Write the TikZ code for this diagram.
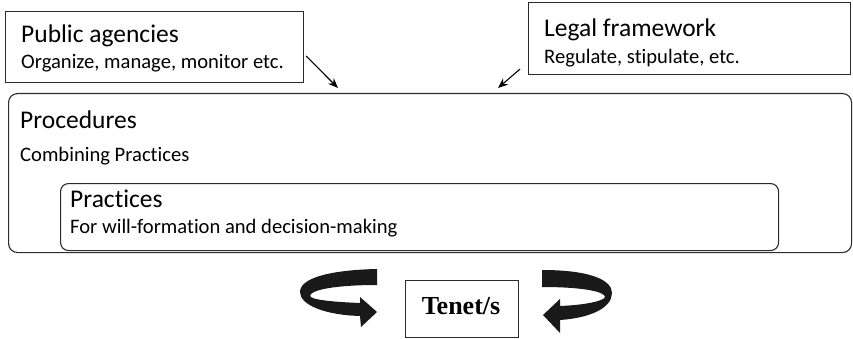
\documentclass[tikz,border=0pt]{standalone}
\usepackage{fontspec}
\setmainfont{Carlito}[Ligatures=NoCommon]
\newfontfamily\tenetfont{Liberation Serif}
\usetikzlibrary{arrows.meta}
\definecolor{ink}{HTML}{2B2B2B}
\begin{document}
\begin{tikzpicture}[x=1pt,y=-1pt,
  box/.style={draw=ink,line width=1.1pt,rectangle,inner sep=0pt,anchor=north west},
  rbox/.style={box,rounded corners=9pt},
  title/.style={anchor=base west,inner sep=0pt,text=black,font=\fontsize{25.5}{29}\selectfont},
  sub/.style={anchor=base west,inner sep=0pt,text=black,font=\fontsize{20.6}{24}\selectfont},
  link/.style={draw=black,line width=1.1pt,-{Stealth[length=10pt,width=8pt]}},
  loop/.style={fill=black!90,draw=none}]
\useasboundingbox (0,0) rectangle (853,339);

% the two source boxes
\node[box,minimum width=298pt,minimum height=71pt] (pub) at (5,11) {};
\node[title] (pubt) at (21,42.5) {Public agencies};
\node[sub] (pubs) at (21,68.5) {Organize, manage, monitor etc.};

\node[box,minimum width=322pt,minimum height=72pt] (leg) at (528,2) {};
\node[title] (legt) at (544,36.5) {Legal framework};
\node[sub] (legs) at (544,63.5) {Regulate, stipulate, etc.};

% procedures with the practices inside
\node[rbox,minimum width=843pt,minimum height=159pt] (proc) at (8,93) {};
\node[title] (proct) at (20,128.5) {Procedures};
\node[sub] (procs) at (20,162) {Combining Practices};

\node[rbox,rounded corners=8pt,minimum width=718pt,minimum height=67pt] (prac) at (60,183) {};
\node[title] (pract) at (70,207.5) {Practices};
\node[sub] (pracs) at (70,233) {For will-formation and decision-making};

% influence arrows
\coordinate (pubin) at (338,88);
\coordinate (legin) at (498,88);
\draw[link] ([xshift=2pt,yshift=-9pt]pub.east) -- (pubin);
\draw[link] ([xshift=-8pt,yshift=6pt]leg.south west) -- (legin);

% tenet box
\node[box,minimum width=113pt,minimum height=57pt] (tenet) at (405,280) {};
\node[anchor=base,inner sep=0pt,font=\tenetfont\bfseries\fontsize{26}{29}\selectfont] (tenett) at (461,314) {Tenet/s};

% circling arrow on the left
\path[loop] (377,269) .. controls (330,270) and (300,278) .. (300,292)
  .. controls (300,305) and (325,315) .. (360,316)
  -- (361,327) -- (377,312) -- (360,297) -- (360,303)
  .. controls (335,302) and (311,300) .. (310,296)
  .. controls (310,290) and (335,285) .. (377,285) -- cycle;

% circling arrow on the right
\path[loop] (542,270) .. controls (590,270) and (612,280) .. (612,293)
  .. controls (612,308) and (590,318) .. (560,320)
  -- (560,333) -- (543,315) -- (560,299) -- (560,306)
  .. controls (585,305) and (604,301) .. (605,297)
  .. controls (605,292) and (585,287) .. (542,287) -- cycle;
\end{tikzpicture}
\end{document}
